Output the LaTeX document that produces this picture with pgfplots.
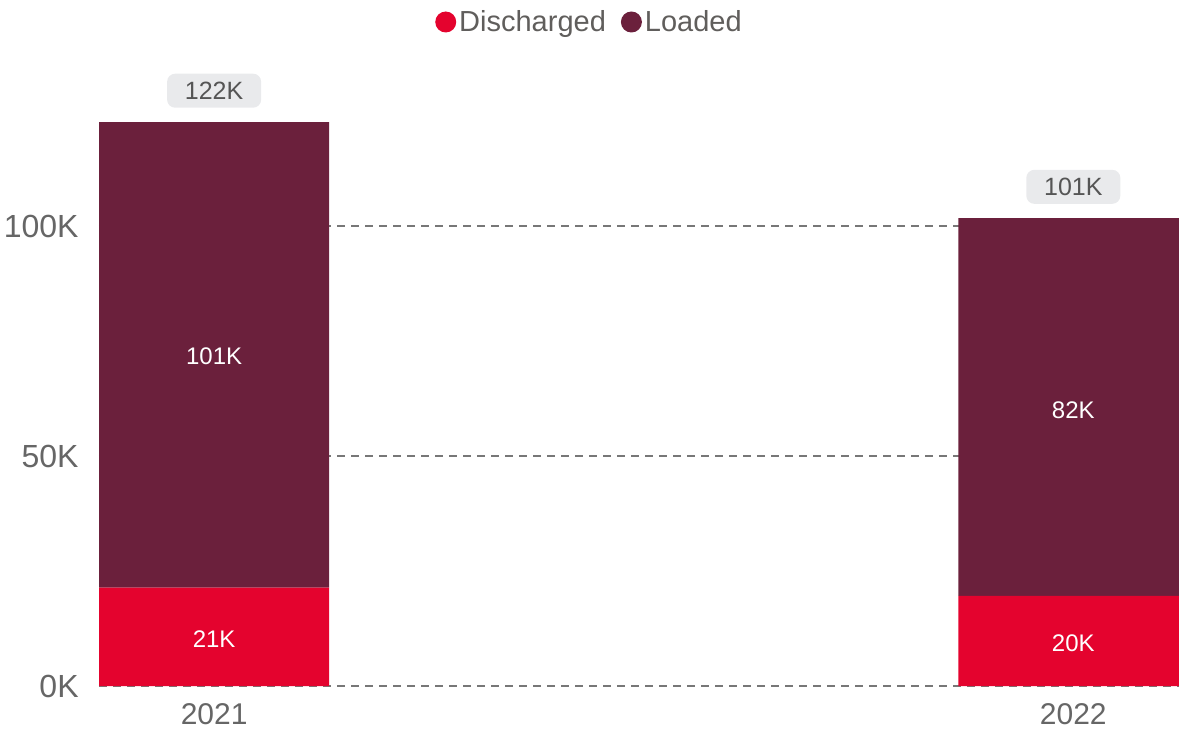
\documentclass[border=0pt]{standalone}
\usepackage{fontspec}
\setmainfont{Liberation Sans}
\usepackage{pgfplots}
\pgfplotsset{compat=1.18}
\definecolor{disch}{HTML}{E4032E}
\definecolor{loaded}{HTML}{6B203C}
\definecolor{txt}{HTML}{605E5C}
\definecolor{tick}{HTML}{666666}
\definecolor{boxfill}{HTML}{E9EAEC}
\definecolor{boxtxt}{HTML}{555555}
\definecolor{gridc}{HTML}{777777}
\begin{document}
\begin{tikzpicture}
\useasboundingbox (0,0) rectangle (589.5pt,364.5pt);
\pgfplotsset{base/.style={at={(49.5pt,21.5pt)}, anchor=south west, scale only axis,
  width=540pt, height=313pt, xmin=-0.134, xmax=1.123, ymin=0, ymax=136.1}}
\begin{axis}[base, ybar stacked, bar width=115pt,
  axis line style={draw=none}, major tick length=0pt, tick style={draw=none},
  ytick={0,50,100}, yticklabels={0K,50K,100K},
  xtick={0,1}, xticklabels={2021,2022},
  ymajorgrids, grid style={gridc, line width=1pt, dash pattern=on 4pt off 3pt},
  yticklabel style={font=\fontsize{16}{19}\selectfont, text=tick, anchor=east, inner sep=0pt, xshift=-10pt},
  xticklabel style={font=\fontsize{15}{18}\selectfont, text=tick, anchor=north, inner sep=0pt, yshift=-8.5pt},
  legend columns=2,
  legend style={at={(0.4546,1.0607)}, anchor=center, draw=none, fill=none,
    font=\fontsize{14.5}{17}\selectfont, text=txt,
    nodes={inner sep=1.5pt},
    /tikz/every even column/.append style={column sep=6pt}},
  legend cell align=left,
]
\addplot[fill=disch, draw=none, legend image code/.code={\fill[disch] (0pt,0pt) circle (5.25pt);}] coordinates {(0,21.4) (1,19.6)};
\addplot[fill=loaded, draw=none, legend image code/.code={\fill[loaded] (0pt,0pt) circle (5.25pt);}] coordinates {(0,101.2) (1,82.1)};
\legend{Discharged,Loaded}
\end{axis}
\begin{axis}[base, hide axis, clip=false]
\addplot[only marks, mark=none,
  point meta=explicit symbolic, nodes near coords,
  every node near coord/.style={text=white, font=\fontsize{12}{14}\selectfont, anchor=center}]
  coordinates {(0,10.2)[21K] (1,9.3)[20K] (0,71.7)[101K] (1,60)[82K]};
\addplot[only marks, mark=none,
  point meta=explicit symbolic, nodes near coords,
  every node near coord/.style={anchor=south, yshift=7pt, fill=boxfill, rounded corners=4pt,
    text=boxtxt, font=\fontsize{12.5}{15}\selectfont, minimum width=47pt, minimum height=17pt, inner sep=0pt}]
  coordinates {(0,122.6)[122K] (1,101.7)[101K]};
\end{axis}
\end{tikzpicture}
\end{document}
